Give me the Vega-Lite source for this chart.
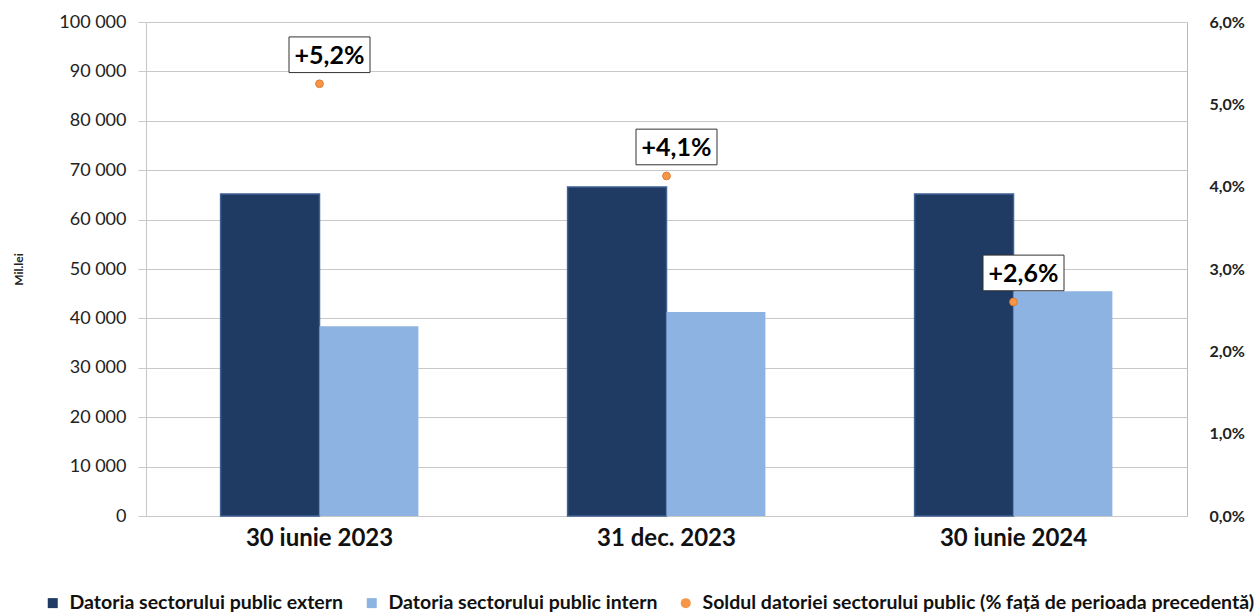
{
  "$schema": "https://vega.github.io/schema/vega-lite/v6.json",
  "width": 1041,
  "height": 494,
  "autosize": {"type": "none"},
  "padding": {"left": 146, "top": 22, "right": 70, "bottom": 96},
  "background": "white",
  "config": {
    "font": "Lato",
    "view": {"stroke": null},
    "legend": {
      "orient": "none",
      "legendX": -103,
      "legendY": 571,
      "direction": "horizontal",
      "labelFontSize": 19.5,
      "labelFontWeight": "bold",
      "labelColor": "#111111",
      "labelLimit": 700,
      "labelOffset": 7,
      "columnPadding": 18,
      "symbolSize": 100,
      "symbolStrokeWidth": 0
    }
  },
  "datasets": {
    "bars": [
      {"date": "30 iunie 2023", "series": "Datoria sectorului public extern", "value": 65200},
      {"date": "30 iunie 2023", "series": "Datoria sectorului public intern", "value": 38400},
      {"date": "31 dec. 2023", "series": "Datoria sectorului public extern", "value": 66600},
      {"date": "31 dec. 2023", "series": "Datoria sectorului public intern", "value": 41300},
      {"date": "30 iunie 2024", "series": "Datoria sectorului public extern", "value": 65200},
      {"date": "30 iunie 2024", "series": "Datoria sectorului public intern", "value": 45500}
    ],
    "pts": [
      {"date": "30 iunie 2023", "series": "Soldul datoriei sectorului public (% față de perioada precedentă)", "pct": 0.0525, "label": "+5,2%"},
      {"date": "31 dec. 2023", "series": "Soldul datoriei sectorului public (% față de perioada precedentă)", "pct": 0.0413, "label": "+4,1%"},
      {"date": "30 iunie 2024", "series": "Soldul datoriei sectorului public (% față de perioada precedentă)", "pct": 0.026, "label": "+2,6%"}
    ]
  },
  "encoding": {
    "x": {
      "field": "date",
      "type": "nominal",
      "sort": ["30 iunie 2023", "31 dec. 2023", "30 iunie 2024"],
      "scale": {"paddingInner": 0.43, "paddingOuter": 0.215},
      "axis": {
        "title": null,
        "labelAngle": 0,
        "labelFontSize": 24,
        "labelFontWeight": "bold",
        "labelColor": "#111111",
        "labelPadding": 10,
        "ticks": false,
        "domainColor": "#c8c8c8",
        "grid": false
      }
    }
  },
  "layer": [
    {
      "data": {"name": "bars"},
      "mark": {"type": "bar", "strokeWidth": 1.5},
      "encoding": {
        "xOffset": {"field": "series", "type": "nominal", "sort": ["Datoria sectorului public extern", "Datoria sectorului public intern"]},
        "stroke": {
          "condition": {"test": "datum.series == 'Datoria sectorului public extern'", "value": "#3f6293"},
          "value": null
        },
        "y": {
          "field": "value",
          "type": "quantitative",
          "scale": {"domain": [0, 100000]},
          "axis": {
            "title": "Mil.lei",
            "titleFontSize": 12,
            "titleFontWeight": "bold",
            "titleColor": "#222222",
            "titlePadding": 33,
            "labelExpr": "replace(format(datum.value, ',d'), ',', ' ')",
            "values": [0, 10000, 20000, 30000, 40000, 50000, 60000, 70000, 80000, 90000, 100000],
            "labelFontSize": 18,
            "labelColor": "#222222",
            "labelPadding": 12,
            "tickSize": 8,
            "tickColor": "#c8c8c8",
            "domainColor": "#c8c8c8",
            "gridColor": "#c8c8c8",
            "grid": true
          }
        },
        "color": {
          "field": "series",
          "type": "nominal",
          "scale": {
            "domain": ["Datoria sectorului public extern", "Datoria sectorului public intern", "Soldul datoriei sectorului public (% față de perioada precedentă)"],
            "range": ["#1f3a63", "#8db3e2", "#f79646"]
          },
          "legend": {"title": null}
        }
      }
    },
    {
      "data": {"name": "pts"},
      "encoding": {
        "y": {
          "field": "pct",
          "type": "quantitative",
          "scale": {"domain": [0, 0.06]},
          "axis": {
            "orient": "right",
            "title": null,
            "labelExpr": "replace(format(datum.value, '.1%'), '.', ',')",
            "values": [0, 0.01, 0.02, 0.03, 0.04, 0.05, 0.06],
            "labelFontSize": 16,
            "labelFontWeight": "bold",
            "labelColor": "#222222",
            "labelPadding": 22,
            "ticks": false,
            "domainColor": "#bbbbbb",
            "grid": false
          }
        }
      },
      "layer": [
        {
          "mark": {"type": "point", "filled": true, "size": 60, "opacity": 1, "stroke": "#e07a30", "strokeWidth": 1},
          "encoding": {
            "color": {"field": "series", "type": "nominal", "legend": {"title": null}},
            "shape": {
              "field": "series",
              "type": "nominal",
              "scale": {
                "domain": ["Datoria sectorului public extern", "Datoria sectorului public intern", "Soldul datoriei sectorului public (% față de perioada precedentă)"],
                "range": ["square", "square", "circle"]
              },
              "legend": {"title": null}
            }
          }
        },
        {
          "mark": {
            "type": "point",
            "shape": "M-1,-0.44L1,-0.44L1,0.44L-1,0.44Z",
            "size": 6561,
            "filled": true,
            "fill": "white",
            "opacity": 1,
            "stroke": "#333333",
            "strokeWidth": 1,
            "xOffset": 10,
            "yOffset": -29
          }
        },
        {
          "mark": {
            "type": "text",
            "fontSize": 25,
            "fontWeight": "bold",
            "color": "#000000",
            "align": "center",
            "baseline": "middle",
            "xOffset": 10,
            "yOffset": -28
          },
          "encoding": {"text": {"field": "label"}}
        }
      ]
    }
  ],
  "resolve": {"scale": {"y": "independent"}}
}
